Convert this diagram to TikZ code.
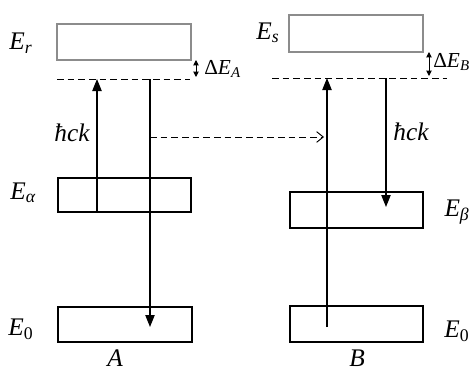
\documentclass[tikz,border=0pt]{standalone}
\usepackage{fontspec}
\setmainfont{Liberation Serif}
\usetikzlibrary{arrows.meta}
\newcommand\ssub[1]{\textsubscript{#1}}
\begin{document}
\begin{tikzpicture}[x=0.75pt,y=-0.75pt,
  lvl/.style={draw=black,line width=1.3pt,inner sep=0pt,rectangle},
  glvl/.style={draw=black!45,line width=1.3pt,inner sep=0pt,rectangle},
  trans/.style={line width=0.9pt,-{Triangle[length=9pt,width=7pt]}},
  dline/.style={line width=0.7pt,dash pattern=on 5pt off 3pt},
  dbl/.style={line width=0.7pt,{Triangle[length=4pt,width=4pt]}-{Triangle[length=4pt,width=4pt]}},
  lab/.style={font=\fontsize{19}{21}\selectfont\itshape,inner sep=0pt},
  slab/.style={font=\fontsize{16}{18}\selectfont\itshape,inner sep=0pt}]
\useasboundingbox (0,0) rectangle (472,371);
% levels
\node[glvl,minimum width=100.5pt,minimum height=27pt] (Er) at (124,42) {};
\node[lvl,minimum width=100pt,minimum height=25.5pt] (Ea) at (124.5,195) {};
\node[lvl,minimum width=100.5pt,minimum height=26pt] (E0A) at (125,324.5) {};
\node[glvl,minimum width=100.5pt,minimum height=27.5pt] (Es) at (356,33.5) {};
\node[lvl,minimum width=100pt,minimum height=27pt] (Eb) at (356.5,210) {};
\node[lvl,minimum width=100pt,minimum height=27pt] (E0B) at (356.5,324) {};
% dashed virtual levels
\coordinate (vA1) at (57,79); \coordinate (vA2) at (190,79);
\coordinate (vB1) at (272,78); \coordinate (vB2) at (447,78);
\draw[dline] (vA1) -- (vA2);
\draw[dline] (vB1) -- (vB2);
% transitions A
\coordinate (upA0) at (97,212); \coordinate (upA1) at (97,79);
\draw[trans] (upA0) -- (upA1);
\coordinate (dnA0) at (150,79); \coordinate (dnA1) at (150,327);
\draw[trans] (dnA0) -- (dnA1);
% transfer
\coordinate (tr0) at (150,137); \coordinate (tr1) at (324,137);
\draw[dline,-{Straight Barb[length=5pt,width=8pt]}] (tr0) -- (tr1);
% transitions B
\coordinate (upB0) at (327,327); \coordinate (upB1) at (327,78);
\draw[trans] (upB0) -- (upB1);
\coordinate (dnB0) at (386,78); \coordinate (dnB1) at (386,207);
\draw[trans] (dnB0) -- (dnB1);
% Delta E arrows
\coordinate (dA0) at (196,60); \coordinate (dA1) at (196,77);
\draw[dbl] (dA0) -- (dA1);
\coordinate (dB0) at (429,52); \coordinate (dB1) at (429,76);
\draw[dbl] (dB0) -- (dB1);
% labels
\node[lab] (lEr) at (21,43) {E\ssub{r}};
\node[lab] (lEa) at (23,193) {E\ssub{α}};
\node[lab] (lE0A) at (21,329) {E\ssub{\textup{0}}};
\node[lab] (lEs) at (268,33) {E\ssub{s}};
\node[lab] (lEb) at (457,212) {E\ssub{β}};
\node[lab] (lE0B) at (457,331) {E\ssub{\textup{0}}};
\node[lab] (lA) at (115,358) {A};
\node[lab] (lB) at (357,358) {B};
\node[lab] (hA) at (72,133) {ħck};
\node[lab] (hB) at (411,132) {ħck};
\node[slab,anchor=west] (dEA) at (204,69) {\textup{Δ}E\ssub{A}};
\node[slab,anchor=west] (dEB) at (433,62) {\textup{Δ}E\ssub{B}};
\end{tikzpicture}
\end{document}
